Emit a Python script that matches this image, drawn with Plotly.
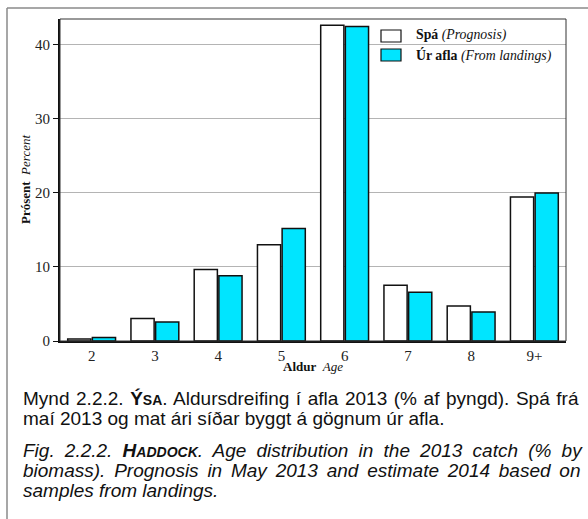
import plotly.graph_objects as go

ages = ["2", "3", "4", "5", "6", "7", "8", "9+"]
prognosis = [0.27, 3.03, 9.67, 13.0, 42.65, 7.54, 4.74, 19.46]
landings = [0.46, 2.57, 8.8, 15.2, 42.5, 6.6, 3.93, 20.0]
y_ticks = [0, 10, 20, 30, 40]

serif = "Liberation Serif"
sans = "Liberation Sans"
cyan = "#00E5FF"

fig = go.Figure()
fig.add_trace(go.Bar(x=ages, y=prognosis, name="Spá (Prognosis)",
                     marker=dict(color="white", line=dict(color="#111", width=1.5)),
                     showlegend=False))
fig.add_trace(go.Bar(x=ages, y=landings, name="Úr afla (From landings)",
                     marker=dict(color=cyan, line=dict(color="#111", width=1.5)),
                     showlegend=False))

W, H = 588, 519
ml, mr, mt, mb = 60, 22, 19, 178
pw, ph = W - ml - mr, H - mt - mb

def px(x):
    return (x - ml) / pw

def py(y):
    return (H - mb - y) / ph

shapes = [
    dict(type="rect", xref="paper", yref="paper", x0=0, x1=1, y0=0, y1=1,
         line=dict(color="#333", width=1), layer="above"),
    dict(type="line", xref="paper", yref="paper", x0=px(7), x1=px(588), y0=py(8), y1=py(8),
         line=dict(color="#8a8a8a", width=1.5)),
    dict(type="line", xref="paper", yref="paper", x0=px(7), x1=px(7), y0=py(8), y1=py(519),
         line=dict(color="#8a8a8a", width=1.5)),
    dict(type="rect", xref="paper", yref="paper", x0=px(381), x1=px(401), y0=py(42), y1=py(30),
         fillcolor="white", line=dict(color="#111", width=1.2)),
    dict(type="rect", xref="paper", yref="paper", x0=px(381), x1=px(401), y0=py(61), y1=py(49),
         fillcolor=cyan, line=dict(color="#111", width=1.2)),
]

annotations = [
    dict(xref="paper", yref="paper", x=px(414), y=py(35), xanchor="left", yanchor="middle",
         text="<b>Spá</b> <i>(Prognosis)</i>", showarrow=False,
         font=dict(family=serif, size=13.8, color="#111")),
    dict(xref="paper", yref="paper", x=px(414), y=py(55), xanchor="left", yanchor="middle",
         text="<b>Úr afla</b> <i>(From landings)</i>", showarrow=False,
         font=dict(family=serif, size=13.8, color="#111")),
    dict(xref="paper", yref="paper", x=0.5, y=py(366), xanchor="center", yanchor="middle",
         text="<b>Aldur</b>  <i>Age</i>", showarrow=False,
         font=dict(family=serif, size=13, color="#111")),
    dict(xref="paper", yref="paper", x=px(25), y=py(180), xanchor="center", yanchor="middle",
         text="<b>Prósent</b>  <i>Percent</i>", textangle=-90, showarrow=False,
         font=dict(family=serif, size=13, color="#111")),
]

sc = "font-size:14px"
caption_lines = [
    (398, "<span style='word-spacing:1.3px'>Mynd 2.2.2. <b>Ý<span style='" + sc + "'>SA</span></b>. Aldursdreifing í afla 2013 (% af þyngd). Spá frá</span>"),
    (418, "maí 2013 og mat ári síðar byggt á gögnum úr afla."),
    (450, "<i><span style='word-spacing:4.9px'>Fig. 2.2.2. <b>H<span style='" + sc + "'>ADDOCK</span></b>. Age distribution in the 2013 catch (% by</span></i>"),
    (470, "<i><span style='word-spacing:3.5px'>biomass). Prognosis in May 2013 and estimate 2014 based on</span></i>"),
    (490, "<i>samples from landings.</i>"),
]
for yy, txt in caption_lines:
    annotations.append(dict(xref="paper", yref="paper", x=px(21), y=py(yy), xanchor="left",
                            yanchor="middle", text=txt, showarrow=False,
                            font=dict(family=sans, size=19, color="#111")))

fig.update_layout(
    width=W, height=H,
    margin=dict(l=ml, r=mr, t=mt, b=mb),
    paper_bgcolor="white", plot_bgcolor="white",
    barmode="group", bargap=0.22, bargroupgap=0.06,
    shapes=shapes, annotations=annotations,
    xaxis=dict(type="category", showline=True, linecolor="#111", linewidth=1.5,
               ticks="", showgrid=False,
               tickfont=dict(family=serif, size=15, color="#222")),
    yaxis=dict(range=[0, 43.5], tickvals=y_ticks, showline=True, linecolor="#111", linewidth=2,
               ticks="outside", ticklen=5, tickcolor="#111", showgrid=True,
               gridcolor="#b4b4b4", gridwidth=1, zeroline=False,
               tickfont=dict(family=serif, size=15, color="#222")),
    font=dict(family=serif),
)

fig.write_html("out.html", config={"displayModeBar": False},
               post_script="document.body.style.margin='0';")
